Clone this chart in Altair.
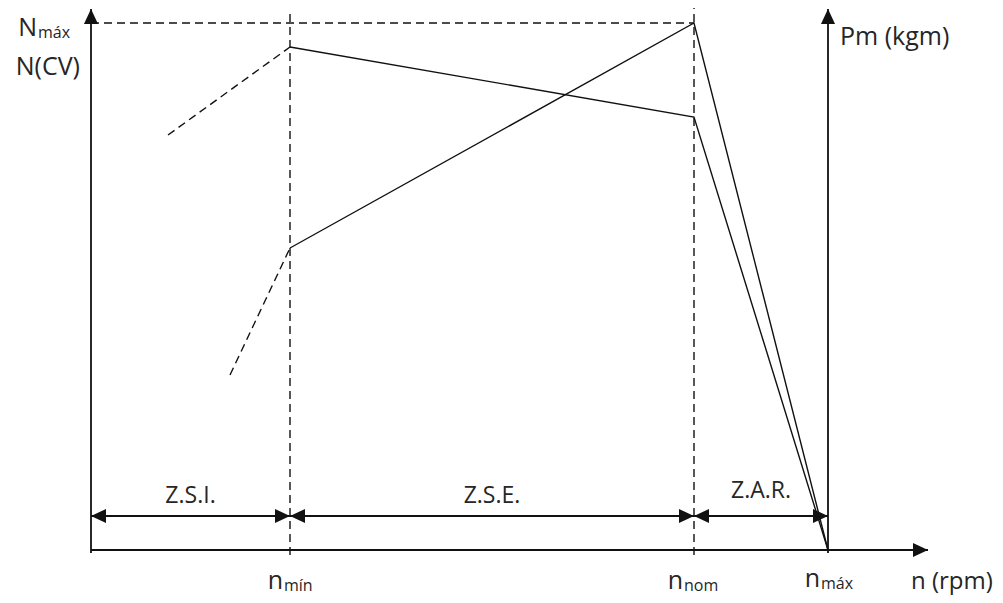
import altair as alt
import pandas as pd

# ---- diagram values (x: distance from the N axis, y: height above the n axis) ----
n_min, n_nom, n_max = 199, 603, 737
n_axis_end = 837
N_max = 527
y_axis_end = 541
zone_row = 34

curve_n = [n_min, n_nom, n_max]
power_N = [302, 527, 0]
torque_Pm = [503, 433, 0]

power_ext_n = [139, 199]
power_ext_N = [175, 302]
torque_ext_n = [77, 199]
torque_ext_Pm = [415, 503]

zone_names = ["Z.S.I.", "Z.S.E.", "Z.A.R."]
zone_bounds = [0, n_min, n_nom, n_max]

# ---- tables ----
X = alt.Scale(domain=[-83, 904], nice=False, zero=False)
Y = alt.Scale(domain=[-45, 542], nice=False, zero=False)
INK = "#111111"
TXT = "#262626"
FONT = "Open Sans"

solid = pd.DataFrame([
    dict(x=0, y=-3, x2=0, y2=y_axis_end),
    dict(x=n_max, y=-3, x2=n_max, y2=y_axis_end),
    dict(x=0, y=0, x2=n_axis_end, y2=0),
    dict(x=zone_bounds[0], y=zone_row, x2=zone_bounds[-1], y2=zone_row),
])
dashed = pd.DataFrame([
    dict(x=n_min, y=-5, x2=n_min, y2=540),
    dict(x=n_nom, y=-5, x2=n_nom, y2=542),
    dict(x=0, y=N_max, x2=n_nom, y2=N_max),
])

curves = pd.DataFrame(
    [dict(s="N", o=i, x=a, y=b) for i, (a, b) in enumerate(zip(curve_n, power_N))]
    + [dict(s="Pm", o=i, x=a, y=b) for i, (a, b) in enumerate(zip(curve_n, torque_Pm))]
)
ext = pd.DataFrame(
    [dict(s="N", o=i, x=a, y=b) for i, (a, b) in enumerate(zip(power_ext_n, power_ext_N))]
    + [dict(s="Pm", o=i, x=a, y=b) for i, (a, b) in enumerate(zip(torque_ext_n, torque_ext_Pm))]
)

heads = [dict(x=0, y=y_axis_end, a=270), dict(x=n_max, y=y_axis_end, a=270),
         dict(x=n_axis_end, y=0, a=0)]
for i in range(len(zone_names)):
    heads.append(dict(x=zone_bounds[i], y=zone_row, a=180))
    heads.append(dict(x=zone_bounds[i + 1], y=zone_row, a=0))
heads = pd.DataFrame(heads)

zones = pd.DataFrame([
    dict(t=zone_names[i], x=(zone_bounds[i] + zone_bounds[i + 1]) / 2,
         y=zone_row + (18 if i == 2 else 13))
    for i in range(len(zone_names))
])

main_right = pd.DataFrame([
    dict(t="N", x=-54, y=N_max - 13),
    dict(t="N(CV)", x=-11, y=475),
    dict(t="n", x=n_min - 7, y=-39),
    dict(t="n", x=n_nom - 11, y=-39),
    dict(t="n", x=n_max - 8, y=-37),
])
subs = pd.DataFrame([
    dict(t="máx", x=-53, y=N_max - 15),
    dict(t="mín", x=n_min - 6, y=-41),
    dict(t="nom", x=n_nom - 10, y=-41),
    dict(t="máx", x=n_max - 7, y=-39),
])
main_left = pd.DataFrame([
    dict(t="Pm (kgm)", x=n_max + 12, y=505),
])
rpm_label = pd.DataFrame([
    dict(t="n (rpm)", x=n_axis_end - 17, y=-39),
])

def seg(df, dash=None, w=1.8):
    kw = dict(color=INK, strokeWidth=w, strokeCap="butt")
    if dash:
        kw["strokeDash"] = dash
    return alt.Chart(df).mark_rule(**kw).encode(
        x=alt.X("x:Q", scale=X, axis=None), y=alt.Y("y:Q", scale=Y, axis=None),
        x2="x2:Q", y2="y2:Q")

def poly(df, dash=None, w=1.4):
    kw = dict(color=INK, strokeWidth=w, strokeJoin="miter")
    if dash:
        kw["strokeDash"] = dash
    return alt.Chart(df).mark_line(**kw).encode(
        x=alt.X("x:Q", scale=X, axis=None), y=alt.Y("y:Q", scale=Y, axis=None),
        detail="s:N", order="o:Q")

def txt(df, size, align):
    return alt.Chart(df).mark_text(fontSize=size, font=FONT, color=TXT, align=align,
                                   baseline="alphabetic").encode(
        x=alt.X("x:Q", scale=X, axis=None), y=alt.Y("y:Q", scale=Y, axis=None),
        text="t:N")

arrow = alt.Chart(heads).mark_point(
    shape="M0,0L-1,-0.47L-1,0.47Z", size=900, filled=True, color=INK,
    opacity=1, strokeWidth=0).encode(
    x=alt.X("x:Q", scale=X, axis=None), y=alt.Y("y:Q", scale=Y, axis=None),
    angle=alt.Angle("a:Q", scale=None))

chart = alt.layer(
    seg(dashed, dash=[8, 5], w=1.4),
    seg(solid),
    poly(curves),
    poly(ext, dash=[8, 5]),
    arrow,
    txt(zones, 23, "center"),
    txt(main_right, 25, "right"),
    txt(subs, 16, "left"),
    txt(main_left, 25, "left"),
    txt(rpm_label, 24, "left"),
).properties(
    width=987, height=587, padding=0, autosize=alt.AutoSizeParams(type="none"),
    background="white"
).configure_view(stroke=None)

chart.save("out.html", embed_options={"renderer": "svg", "actions": False})
